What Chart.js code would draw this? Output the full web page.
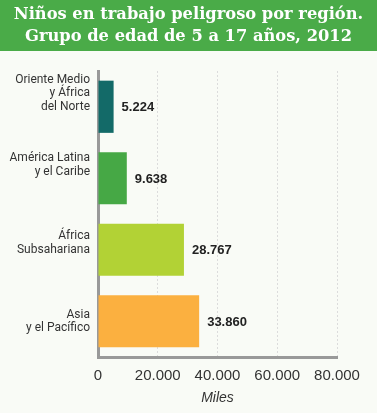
<!DOCTYPE html>
<html>
<head>
<meta charset="utf-8">
<script src="https://cdn.jsdelivr.net/npm/chart.js@4/dist/chart.umd.min.js"></script>
<style>
  html, body { margin: 0; padding: 0; background: #f9fbf6; }
  #wrap { width: 377px; height: 413px; }
</style>
</head>
<body>
<div id="wrap"><canvas id="c" width="377" height="413"></canvas></div>
<script>
const titleLines = ['Niños en trabajo peligroso por región.', 'Grupo de edad de 5 a 17 años, 2012'];
const categories = [
  ['Oriente Medio', 'y África', 'del Norte'],
  ['América Latina', 'y el Caribe'],
  ['África', 'Subsahariana'],
  ['Asia', 'y el Pacífico']
];
const values = [5224, 9638, 28767, 33860];
const barColors = ['#136a68', '#46a845', '#b2d235', '#fbb040'];
const xTicks = [0, 20000, 40000, 60000, 80000];
const xAxisTitle = 'Miles';

// label vertical nudge (in blank trailing lines), purely presentational
const labelLift = [2, 2, 1, 0];

function fmt(n) {
  return String(n).replace(/\B(?=(\d{3})+(?!\d))/g, '.');
}

const bgPlugin = {
  id: 'bg',
  beforeDraw(chart) {
    const ctx = chart.ctx;
    ctx.save();
    ctx.fillStyle = '#f9fbf6';
    ctx.fillRect(0, 0, chart.width, chart.height);
    ctx.fillStyle = '#4aab48';
    ctx.fillRect(0, 0, chart.width, 51);
    ctx.restore();
  }
};

const valuePlugin = {
  id: 'values',
  afterDatasetsDraw(chart) {
    const ctx = chart.ctx;
    const meta = chart.getDatasetMeta(0);
    ctx.save();
    ctx.font = 'bold 13px "Liberation Sans", Arial, sans-serif';
    ctx.fillStyle = '#222222';
    ctx.textAlign = 'left';
    ctx.textBaseline = 'middle';
    meta.data.forEach((bar, i) => {
      ctx.fillText(fmt(values[i]), bar.x + 8, bar.y + 1);
    });
    ctx.restore();
  }
};

new Chart(document.getElementById('c'), {
  type: 'bar',
  data: {
    labels: categories,
    datasets: [{
      data: values,
      backgroundColor: barColors,
      borderWidth: 0,
      categoryPercentage: 1,
      barPercentage: 0.73
    }]
  },
  options: {
    indexAxis: 'y',
    responsive: false,
    animation: false,
    devicePixelRatio: 1,
    layout: { padding: { left: 0, right: 0, top: 0, bottom: 0 } },
    plugins: {
      legend: { display: false },
      tooltip: { enabled: false },
      title: {
        display: true,
        text: titleLines,
        color: '#ffffff',
        font: { family: '"DejaVu Serif", serif', size: 16.3, weight: 'bold', lineHeight: 1.35 },
        padding: { top: 4, bottom: 23 }
      }
    },
    scales: {
      x: {
        min: 0,
        max: 80000,
        afterBuildTicks(scale) { scale.ticks = xTicks.map(v => ({ value: v })); },
        afterFit(scale) { scale.height = 56; },
        grid: { color: '#dcdcdc', lineWidth: 1, drawTicks: false },
        border: { display: true, color: '#999999', width: 3, dash: [2, 2] },
        ticks: {
          padding: 10,
          color: '#333333',
          font: { family: '"Liberation Sans", Arial, sans-serif', size: 15 },
          callback: (v) => fmt(v)
        },
        title: {
          display: true,
          text: xAxisTitle,
          color: '#333333',
          font: { family: '"Liberation Sans", Arial, sans-serif', size: 14, style: 'italic' },
          padding: { top: 0, bottom: 6 }
        }
      },
      y: {
        afterFit(scale) { scale.width = 98; },
        grid: { display: false, drawTicks: false },
        border: { display: true, color: '#999999', width: 3 },
        ticks: {
          padding: 8,
          color: '#333333',
          font: { family: 'Roboto, "Liberation Sans", Arial, sans-serif', size: 12, lineHeight: 1.12 },
          callback: (v, i) => categories[i].concat(Array(labelLift[i]).fill(''))
        }
      },
      yRight: {
        type: 'category',
        position: 'right',
        labels: [''],
        afterFit(scale) { scale.width = 40; },
        grid: { display: false, drawTicks: false },
        border: { display: false },
        ticks: { display: false }
      }
    }
  },
  plugins: [bgPlugin, valuePlugin]
});
</script>
</body>
</html>
